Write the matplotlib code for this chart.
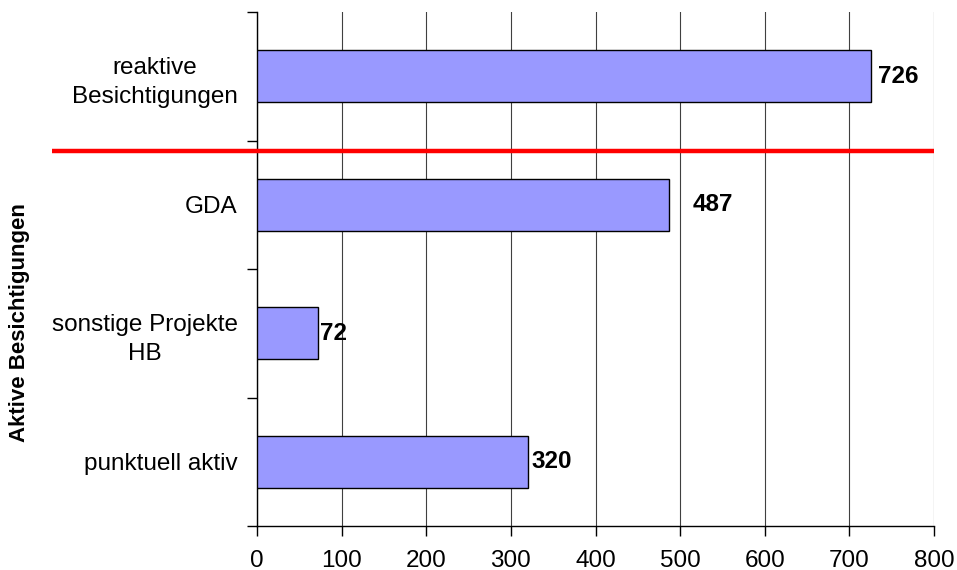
import matplotlib
matplotlib.use("Agg")
import matplotlib.pyplot as plt
import matplotlib.transforms as mtransforms

plt.rcParams['font.family'] = ['Liberation Sans', 'DejaVu Sans']

categories = ["reaktive\nBesichtigungen", "GDA", "sonstige Projekte\nHB", "punktuell aktiv"]
values = [726, 487, 72, 320]
label_offsets_px = [7, 24, 2, 4]
xticks = [0, 100, 200, 300, 400, 500, 600, 700, 800]
ylabel = "Aktive Besichtigungen"

FS = 17.5
W, H = 957, 570
fig = plt.figure(figsize=(W / 100, H / 100), dpi=100)
left, right, top, bottom = 257, 934, 12, 526
ax = fig.add_axes([left / W, 1 - bottom / H, (right - left) / W, (bottom - top) / H])

ypos = list(range(len(categories)))
ax.barh(ypos, values, height=0.405, color="#9999FF", edgecolor="black", linewidth=1.0, zorder=3)
ax.set_ylim(len(categories) - 0.5, -0.5)
ax.set_xlim(0, 800)
ax.set_xticks(xticks)
ax.set_xticklabels([str(t) for t in xticks], fontsize=FS)
ax.set_yticks(ypos)
ax.set_yticklabels(categories, fontsize=FS, ha="right", multialignment="center", linespacing=1.45)
ax.tick_params(axis="y", length=0, pad=14)
ax.set_yticks([i - 0.5 for i in range(len(categories) + 1)], minor=True)
ax.tick_params(axis="y", which="minor", length=7, width=1, color="black", direction="out")
ax.tick_params(axis="x", length=7, width=1, direction="out", pad=10)

for s in ["top", "right"]:
    ax.spines[s].set_visible(False)
for s in ["left", "bottom"]:
    ax.spines[s].set_linewidth(1.0)
ax.set_axisbelow(True)
ax.xaxis.grid(True, color="#404040", linewidth=0.8)

for i, v in enumerate(values):
    off = mtransforms.offset_copy(ax.transData, fig=fig, x=label_offsets_px[i], y=0, units="dots")
    ax.text(v, i, str(v), transform=off, fontsize=FS, fontweight="bold", ha="left", va="center")

# red separator line
blend = mtransforms.blended_transform_factory(fig.transFigure, ax.transData)
ax.plot([52 / W, 934 / W], [0.58, 0.58], transform=blend, color="#FF0000", linewidth=3.2,
        clip_on=False, zorder=5, solid_capstyle="butt")

fig.text(20 / W, 1 - 323 / H, ylabel, rotation=90, fontsize=16, fontweight="bold",
         ha="center", va="center")

fig.savefig("out.png", dpi=100)
